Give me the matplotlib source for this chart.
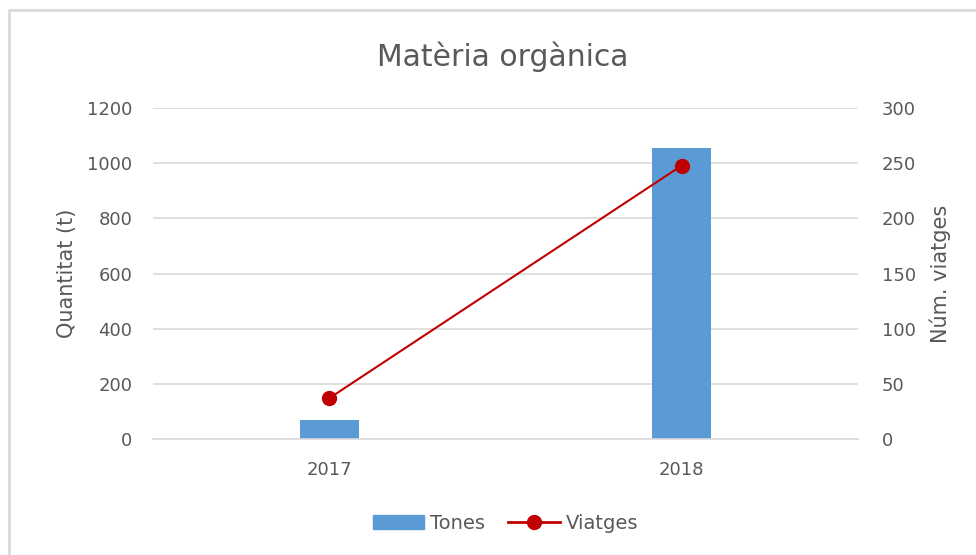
import numpy as np
import matplotlib.pyplot as plt
from matplotlib.patches import Rectangle
from matplotlib.lines import Line2D
from matplotlib.patches import Patch

plt.switch_backend('agg')

years = ['2017', '2018']
tones = [70, 1057]
viatges = [37, 248]

grey = '#595959'
blue = '#5b9bd5'
red = '#c00000'

fig = plt.figure(figsize=(9.76, 5.55), dpi=100)
ax1 = fig.add_axes([0.1568, 0.209, 0.7222, 0.596])
ax2 = ax1.twinx()

x = np.arange(len(years))
ax1.bar(x, tones, width=0.168, color=blue, zorder=2)
ax2.plot(x, viatges, color=red, lw=1.5, marker='o', ms=10, zorder=3)

ax1.set_xlim(-0.5, 1.5)
ax1.set_ylim(0, 1200)
ax2.set_ylim(0, 300)
ax1.set_yticks(np.arange(0, 1201, 200))
ax2.set_yticks(np.arange(0, 301, 50))
ax1.set_xticks(x)
ax1.set_xticklabels(years)
ax1.grid(axis='y', color='#d9d9d9', lw=1.2, zorder=0)
ax1.set_axisbelow(True)

for a in (ax1, ax2):
    for s in a.spines.values():
        s.set_visible(False)
    a.tick_params(length=0, labelsize=13, labelcolor=grey)
ax1.spines['bottom'].set_visible(True)
ax1.spines['bottom'].set_color('#d9d9d9')
ax1.spines['bottom'].set_linewidth(1.2)
ax1.tick_params(axis='y', pad=15)
ax2.tick_params(axis='y', pad=17)
ax1.tick_params(axis='x', pad=16)

ax1.set_ylabel('Quantitat (t)', fontsize=15, color=grey, labelpad=7)
ax2.set_ylabel('Núm. viatges', fontsize=15, color=grey, labelpad=10)
fig.text(0.515, 0.898, 'Matèria orgànica', fontsize=21.5, color=grey,
         ha='center', va='center')

handles = [Patch(color=blue), Line2D([], [], color=red, lw=2, marker='o', ms=10)]
fig.legend(handles, ['Tones', 'Viatges'], loc='center', bbox_to_anchor=(0.518, 0.057),
           ncol=2, frameon=False, fontsize=14, labelcolor=grey,
           handlelength=2.65, columnspacing=1.2, handletextpad=0.3)

fig.patches.append(Rectangle((9 / 976, -0.1), 1.2, 1 - 10 / 555 + 0.1,
                             transform=fig.transFigure, fill=False,
                             edgecolor='#d9d9d9', lw=2))
fig.set_facecolor('white')
plt.savefig('out.png', dpi=100)
